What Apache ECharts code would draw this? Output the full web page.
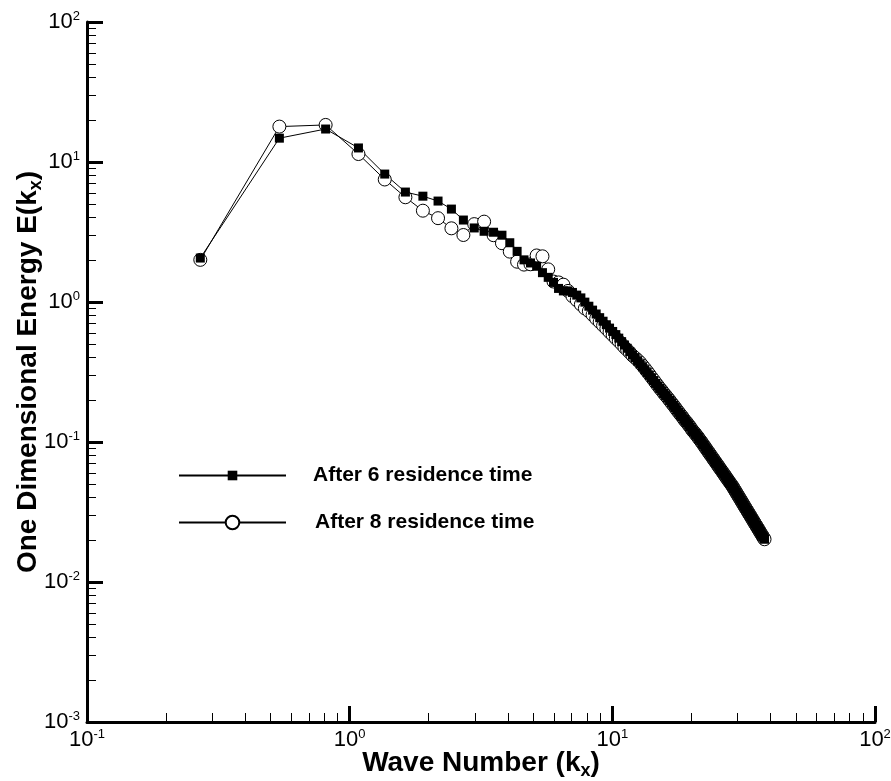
<!DOCTYPE html>
<html>
<head>
<meta charset="utf-8">
<script src="https://cdn.jsdelivr.net/npm/echarts@6/dist/echarts.min.js"></script>
<style>
html,body{margin:0;padding:0;background:#fff;}
#chart{width:891px;height:781px;}
</style>
</head>
<body>
<div id="chart"></div>
<script>
// Wave numbers k_x (grid of the spectrum)
const kx = [
0.27,0.54,0.81,1.08,1.36,1.63,1.90,2.17,2.44,2.71,
2.98,3.25,3.53,3.80,4.07,4.34,4.61,4.88,5.15,5.42,
5.70,5.97,6.24,6.51,6.78,7.05,7.32,7.59,7.86,8.14,
8.41,8.68,8.95,9.22,9.49,9.76,10.03,10.31,10.58,10.85,
11.12,11.39,11.66,11.93,12.20,12.48,12.75,13.02,13.29,13.56,
13.83,14.10,14.37,14.64,14.92,15.19,15.46,15.73,16.00,16.27,
16.54,16.81,17.09,17.36,17.63,17.90,18.17,18.44,18.71,18.98,
19.26,19.53,19.80,20.07,20.34,20.61,20.88,21.15,21.42,21.70,
21.97,22.24,22.51,22.78,23.05,23.32,23.59,23.87,24.14,24.41,
24.68,24.95,25.22,25.49,25.76,26.04,26.31,26.58,26.85,27.12,
27.39,27.66,27.93,28.20,28.48,28.75,29.02,29.29,29.56,29.83,
30.10,30.37,30.65,30.92,31.19,31.46,31.73,32.00,32.27,32.54,
32.82,33.09,33.36,33.63,33.90,34.17,34.44,34.71,34.98,35.26,
35.53,35.80,36.07,36.34,36.61,36.88,37.15,37.43,37.70,37.97
];
// After 6 residence time: first 55 points
const energy6Head = [
2.06,14.8,17.2,12.6,8.2,6.1,5.7,5.26,4.61,3.85,
3.38,3.2,3.15,3.0,2.65,2.3,2.0,1.9,1.8,1.62,
1.5,1.38,1.25,1.2,1.2,1.17,1.12,1.07,0.998,0.933,
0.875,0.821,0.773,0.729,0.688,0.651,0.616,0.585,0.552,0.521,
0.493,0.467,0.442,0.42,0.399,0.379,0.361,0.344,0.328,0.313,
0.299,0.286,0.274,0.262,0.251
];
// After 8 residence time: first 55 points
const energy8Head = [
2.0,17.9,18.4,11.4,7.5,5.6,4.49,3.97,3.36,3.01,
3.6,3.75,3.0,2.63,2.29,1.94,1.85,1.86,2.15,2.12,
1.71,1.40,1.38,1.33,1.2,1.1,1.03,0.96,0.90,0.86,
0.81,0.76,0.72,0.68,0.645,0.61,0.58,0.55,0.525,0.50,
0.475,0.455,0.435,0.415,0.40,0.385,0.37,0.352,0.336,0.32,
0.305,0.29,0.277,0.264,0.252
];
// High wave-number tail (both curves coincide), points 56..140
const energyTail = [
0.241,0.232,0.222,0.214,0.206,0.198,0.190,0.183,0.176,0.169,
0.163,0.157,0.152,0.146,0.141,0.137,0.132,0.128,0.123,0.119,
0.116,0.112,0.109,0.105,0.102,0.0986,0.0954,0.0924,0.0894,0.0866,
0.0840,0.0814,0.0790,0.0766,0.0743,0.0722,0.0701,0.0681,0.0662,0.0643,
0.0625,0.0608,0.0592,0.0576,0.0560,0.0546,0.0531,0.0518,0.0505,0.0492,
0.0479,0.0465,0.0452,0.0439,0.0427,0.0415,0.0404,0.0393,0.0382,0.0372,
0.0362,0.0352,0.0343,0.0334,0.0326,0.0317,0.0309,0.0302,0.0294,0.0287,
0.0280,0.0273,0.0267,0.0260,0.0254,0.0248,0.0242,0.0237,0.0231,0.0226,
0.0221,0.0216,0.0211,0.0206,0.0202
];
const seriesNames = ['After 6 residence time', 'After 8 residence time'];
const xMajor = [0.1, 1, 10, 100];
const yMajor = [0.001, 0.01, 0.1, 1, 10, 100];
const minorMult = [2,3,4,5,6,7,8,9];

function minorOf(major) {
  const out = [];
  for (let i = 0; i < major.length - 1; i++) {
    minorMult.forEach(m => out.push(+(major[i] * m).toPrecision(3)));
  }
  return out;
}
const xMinor = minorOf(xMajor);
const yMinor = minorOf(yMajor);

const energy6 = energy6Head.concat(energyTail);
const energy8 = energy8Head.concat(energyTail);
const data6 = kx.map((k, i) => [k, energy6[i]]);
const data8 = kx.map((k, i) => [k, energy8[i]]);

const FONT = '"Liberation Sans", Arial, Helvetica, sans-serif';
const powRich = {
  m: { fontFamily: FONT, fontSize: 22, color: '#000', lineHeight: 24 },
  e: { fontFamily: FONT, fontSize: 13, color: '#000', lineHeight: 13, verticalAlign: 'top' }
};
function powLabel(v) {
  const e = Math.round(Math.log10(v));
  return '{m|10}{e|' + e + '}';
}

const chart = echarts.init(document.getElementById('chart'), null, { renderer: 'canvas' });

const axisLineStyle = { color: '#000', width: 3 };
const titleRich = {
  t: { fontFamily: FONT, fontSize: 28, fontWeight: 'bold', color: '#000', lineHeight: 34 },
  s: { fontFamily: FONT, fontSize: 18, fontWeight: 'bold', color: '#000', lineHeight: 18, verticalAlign: 'bottom' }
};
const legendText = { fontFamily: FONT, fontSize: 21, fontWeight: 'bold', color: '#000' };

const option = {
  animation: false,
  backgroundColor: '#fff',
  grid: { left: 87, right: 16, top: 22, bottom: 59, containLabel: false, outerBoundsMode: 'none' },
  legend: [
    {
      data: [seriesNames[0]],
      orient: 'vertical', left: 173, top: 460,
      itemWidth: 107, itemHeight: 12,
      padding: 5,
      textStyle: Object.assign({ padding: [0, 0, 0, 22] }, legendText)
    },
    {
      data: [seriesNames[1]],
      orient: 'vertical', left: 173, top: 507,
      itemWidth: 107, itemHeight: 17,
      padding: 5,
      textStyle: Object.assign({ padding: [0, 0, 0, 24] }, legendText)
    }
  ],
  xAxis: [
    {
      type: 'log', logBase: 10, min: 0.1, max: 100,
      position: 'bottom',
      axisLine: { show: true, lineStyle: axisLineStyle },
      axisTick: { show: true, inside: true, length: 16, customValues: xMajor, lineStyle: { color: '#000', width: 3 } },
      axisLabel: { show: true, customValues: xMajor, margin: 6, formatter: powLabel, rich: powRich },
      splitLine: { show: false },
      name: '{t|Wave Number (k}{s|x}{t|)}',
      nameLocation: 'middle', nameGap: 24, nameMoveOverlap: false,
      nameTextStyle: { rich: titleRich }
    },
    {
      type: 'log', logBase: 10, min: 0.1, max: 100,
      position: 'bottom',
      axisLine: { show: false },
      axisTick: { show: true, inside: true, length: 9, customValues: xMinor, lineStyle: { color: '#000', width: 1 } },
      axisLabel: { show: false },
      splitLine: { show: false }
    }
  ],
  yAxis: [
    {
      type: 'log', logBase: 10, min: 0.001, max: 100,
      position: 'left',
      axisLine: { show: true, lineStyle: axisLineStyle },
      axisTick: { show: true, inside: true, length: 16, customValues: yMajor, lineStyle: { color: '#000', width: 3 } },
      axisLabel: { show: true, customValues: yMajor, margin: 7, formatter: powLabel, rich: powRich },
      splitLine: { show: false },
      name: '{t|One Dimensional Energy E(k}{s|x}{t|)}',
      nameLocation: 'middle', nameGap: 42, nameRotate: 90, nameMoveOverlap: false,
      nameTextStyle: { rich: titleRich }
    },
    {
      type: 'log', logBase: 10, min: 0.001, max: 100,
      position: 'left',
      axisLine: { show: false },
      axisTick: { show: true, inside: true, length: 9, customValues: yMinor, lineStyle: { color: '#000', width: 1 } },
      axisLabel: { show: false },
      splitLine: { show: false }
    }
  ],
  series: [
    {
      name: seriesNames[1],
      type: 'line',
      xAxisIndex: 0, yAxisIndex: 0,
      data: data8,
      symbol: 'circle', symbolSize: 13,
      showAllSymbol: true,
      itemStyle: { color: '#fff', borderColor: '#000', borderWidth: 1 },
      lineStyle: { color: '#000', width: 1 },
      emphasis: { disabled: true }
    },
    {
      name: seriesNames[0],
      type: 'line',
      xAxisIndex: 0, yAxisIndex: 0,
      data: data6,
      symbol: 'rect', symbolSize: 9,
      showAllSymbol: true,
      itemStyle: { color: '#000' },
      lineStyle: { color: '#000', width: 1 },
      emphasis: { disabled: true }
    }
  ]
};
chart.setOption(option);
</script>
</body>
</html>
